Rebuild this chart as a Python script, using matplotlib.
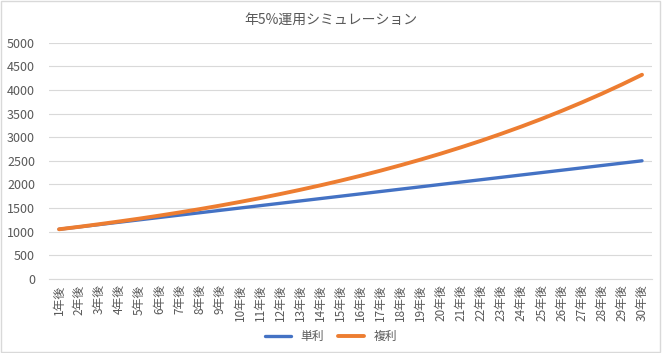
import matplotlib.pyplot as plt
from matplotlib.patches import Rectangle

plt.rcParams["font.family"] = ["Noto Sans CJK JP", "DejaVu Sans"]

years = [f"{i}年後" for i in range(1, 31)]
simple = [1050, 1100, 1150, 1200, 1250, 1300, 1350, 1400, 1450, 1500,
          1550, 1600, 1650, 1700, 1750, 1800, 1850, 1900, 1950, 2000,
          2050, 2100, 2150, 2200, 2250, 2300, 2350, 2400, 2450, 2500]
compound = [1050, 1102, 1158, 1216, 1276, 1340, 1407, 1477, 1551, 1629,
            1710, 1796, 1886, 1980, 2079, 2183, 2292, 2407, 2527, 2653,
            2786, 2925, 3072, 3225, 3386, 3556, 3734, 3920, 4116, 4322]

TEXT = "#595959"
GRID = "#D9D9D9"

fig = plt.figure(figsize=(6.62, 3.53), dpi=100)
ax = fig.add_axes([0.074, 0.21, 0.911, 0.669])

x = range(len(years))
ax.plot(x, simple, color="#4472C4", linewidth=2.4, label="単利", solid_capstyle="round")
ax.plot(x, compound, color="#ED7D31", linewidth=2.8, label="複利", solid_capstyle="round")

ax.set_xlim(-0.5, len(years) - 0.5)
ax.set_ylim(0, 5000)
ax.set_yticks(range(0, 5001, 500))
ax.set_xticks(list(x))
ax.set_xticklabels(years, rotation=90, fontsize=8.5, color=TEXT)
ax.tick_params(axis="y", labelsize=9, labelcolor=TEXT, length=0, pad=10)
ax.tick_params(axis="x", length=0, pad=4)
ax.grid(axis="y", color=GRID, linewidth=0.8)
ax.set_axisbelow(True)
for side in ["top", "right", "left"]:
    ax.spines[side].set_visible(False)
ax.spines["bottom"].set_color(GRID)

fig.suptitle("年5%運用シミュレーション", fontsize=10, color=TEXT, y=0.965)
fig.legend(loc="center", bbox_to_anchor=(0.5, 0.047), ncol=2, frameon=False,
           fontsize=8.5, labelcolor=TEXT, handlelength=2.2, columnspacing=1.2)

fig.patches.append(Rectangle((0.002, 0.003), 0.995, 0.994, transform=fig.transFigure,
                             fill=False, edgecolor=GRID, linewidth=1))

fig.savefig("out.png", dpi=100)
